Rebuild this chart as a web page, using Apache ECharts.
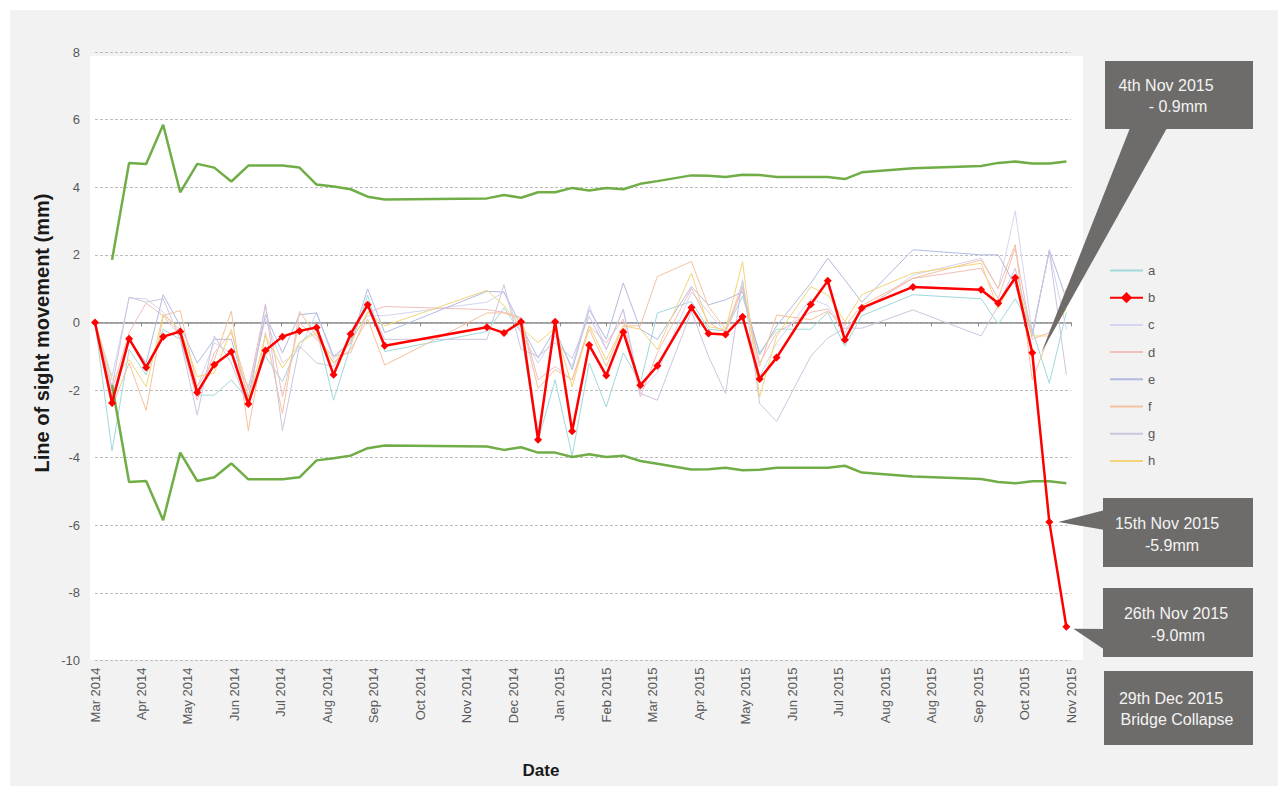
<!DOCTYPE html>
<html>
<head>
<meta charset="utf-8">
<script src="https://cdn.jsdelivr.net/npm/echarts@6/dist/echarts.min.js"></script>
<style>
  html, body { margin: 0; padding: 0; background: #ffffff; }
  #chart { width: 1278px; height: 786px; }
</style>
</head>
<body>
<div id="chart"></div>
<script>
// Axis origin (day 0) and the month labels placed every 30 days
const axisStart = '2014-03-09';
const tickStepDays = 30;
const tickLabels = ['Mar 2014', 'Apr 2014', 'May 2014', 'Jun 2014', 'Jul 2014', 'Aug 2014',
  'Sep 2014', 'Oct 2014', 'Nov 2014', 'Dec 2014', 'Jan 2015', 'Feb 2015', 'Mar 2015',
  'Apr 2015', 'May 2015', 'Jun 2015', 'Jul 2015', 'Aug 2015', 'Aug 2015', 'Sep 2015',
  'Oct 2015', 'Nov 2015'];

// Acquisition dates (11-day revisit, with gaps)
const dates = [
  '2014-03-09', '2014-03-20', '2014-03-31', '2014-04-11', '2014-04-22', '2014-05-03',
  '2014-05-14', '2014-05-25', '2014-06-05', '2014-06-16', '2014-06-27', '2014-07-08',
  '2014-07-19', '2014-07-30', '2014-08-10', '2014-08-21', '2014-09-01', '2014-09-12',
  '2014-11-17', '2014-11-28', '2014-12-09', '2014-12-20', '2014-12-31', '2015-01-11',
  '2015-01-22', '2015-02-02', '2015-02-13', '2015-02-24', '2015-03-07', '2015-03-29',
  '2015-04-09', '2015-04-20', '2015-05-01', '2015-05-12', '2015-05-23', '2015-06-14',
  '2015-06-25', '2015-07-06', '2015-07-17', '2015-08-19', '2015-10-02', '2015-10-13',
  '2015-10-24', '2015-11-04', '2015-11-15', '2015-11-26'];

// Line-of-sight movement (mm) per measurement point
const a = [0, -3.8, -0.8, -1.55, -0.2, -0.5, -2.15, -2.15, -1.7, -2.3,
  -1.0, -1.75, -0.6, -0.2, -2.3, -0.7, 0.8, -0.86,
  -0.27, 0.43, -0.3, -3.5, -1.7, -3.95, -1.2, -2.5, -0.9, -1.8, 0.28,
  0.62, -0.2, -0.25, 0.77, -0.9, -0.2,
  -0.2, 0.3, -0.7, 0.2,
  0.82,
  0.7, -0.05, 0.7, -0.2, -1.8, 0.3];
const b = [0, -2.38, -0.48, -1.33, -0.42, -0.27, -2.07, -1.25, -0.87, -2.41,
  -0.83, -0.42, -0.25, -0.15, -1.55, -0.34, 0.52, -0.69,
  -0.14, -0.31, 0.02, -3.47, 0.02, -3.22, -0.67, -1.57, -0.28, -1.86, -1.28,
  0.44, -0.33, -0.36, 0.17, -1.67, -1.04,
  0.53, 1.23, -0.51, 0.43,
  1.05,
  0.97, 0.57, 1.32, -0.9, -5.9, -9.0];
const c = [0, -1.6, 0.72, 0.7, 0.3, -0.3, -1.9, -0.6, -0.9, -1.9,
  0.1, -1.2, -0.8, 0.3, -1.1, -0.5, 0.2, 0.2,
  0.6, 0.9, -0.3, -1.2, -0.4, -1.3, 0.5, -0.8, 0.4, -2.0, -1.5,
  0.9, 0.3, -0.3, 1.2, -1.6, -0.6,
  0.7, 0.5, -0.2, 0.3,
  1.4,
  1.9, 1.0, 3.3, -0.3, 2.1, -0.2];
const d = [0, -2.0, -0.3, 0.57, 0.2, -0.4, -2.3, -0.9, -0.3, -2.0,
  0.5, -2.2, 0.0, -0.5, -1.0, -0.9, 0.3, 0.47,
  0.38, 0.3, 0.15, -1.7, -1.3, -1.7, -0.1, -0.6, 0.1, -2.2, -0.9,
  1.0, 0.0, -0.3, 1.0, -1.2, -0.3,
  0.3, 0.4, -0.3, 0.4,
  1.3,
  1.6, 0.7, 2.2, -0.5, -0.3, 0.9];
const e = [0, -2.2, -0.5, -1.2, 0.82, -0.1, -1.2, -0.5, -0.5, -2.2,
  0.23, -0.9, 0.23, 0.28, -1.0, -0.6, 0.99, -0.3,
  0.92, 0.9, -0.1, -1.05, -0.2, -1.4, 0.38, -0.5, 1.17, -0.2, -0.5,
  1.06, 0.52, 0.67, 0.9, -0.96, -0.1,
  1.16, 1.9, 1.26, 0.6,
  2.15,
  2.0, 2.0, 1.1, -0.4, 2.15, 0.7];
const f = [0, -2.5, -1.2, -2.6, 0.2, 0.35, -1.9, -1.1, 0.33, -3.2,
  -0.3, -2.7, 0.33, -0.4, -1.2, -0.8, 0.1, -1.26,
  0.28, 0.28, 0.1, -1.95, -1.4, -1.7, -0.2, -1.3, -0.1, -0.1, 1.36,
  1.8, 0.47, -0.2, 1.06, -1.3, 0.22,
  0.08, 0.33, -0.1, 0.5,
  1.31,
  1.85, 1.0, 2.3, -1.7, -0.4, 1.0];
const g = [0, -1.9, 0.75, 0.6, 0.7, -0.5, -2.74, -0.4, -1.2, -2.5,
  0.55, -3.2, -0.7, -1.2, -1.3, -0.5, 0.6, -0.5,
  -0.5, 1.12, -0.8, -1.0, -0.6, -1.06, 0.18, -0.8, 0.38, -2.1, -2.3,
  0.33, -1.0, -2.1, 1.26, -2.4, -2.93,
  -1.0, -0.46, -0.17, -0.17,
  0.37,
  -0.4, 0.5, 1.6, -0.3, 2.1, -1.55];
const h = [0, -1.7, -1.1, -1.9, 0.23, -0.2, -1.6, -1.5, -0.2, -2.3,
  -0.4, -1.35, -0.6, -0.3, -1.2, -0.6, 0.3, -0.1,
  0.95, 0.5, -0.15, -0.6, -0.17, -1.9, -0.1, -1.1, -0.1, -0.2, -0.8,
  1.46, -0.12, -0.22, 1.8, -2.2, -0.4,
  1.06, 0.82, 0.03, 0.82,
  1.46,
  1.75, 0.4, 1.4, -0.4, -0.4, 0.4];

// Upper / lower threshold envelopes (mm)
const upper = [null, 1.85, 4.72, 4.69, 5.85, 3.85, 4.69, 4.58, 4.17, 4.64,
  4.64, 4.64, 4.58, 4.08, 4.02, 3.94, 3.72, 3.64,
  3.67, 3.77, 3.69, 3.85, 3.85, 3.98, 3.9, 3.98, 3.94, 4.1, 4.18,
  4.35, 4.34, 4.3, 4.37, 4.36, 4.3,
  4.3, 4.3, 4.24, 4.44,
  4.56,
  4.63, 4.72, 4.76, 4.7, 4.7, 4.76];
const lower = [null, -1.85, -4.72, -4.69, -5.85, -3.85, -4.69, -4.58, -4.17, -4.64,
  -4.64, -4.64, -4.58, -4.08, -4.02, -3.94, -3.72, -3.64,
  -3.67, -3.77, -3.69, -3.85, -3.85, -3.98, -3.9, -3.98, -3.94, -4.1, -4.18,
  -4.35, -4.34, -4.3, -4.37, -4.36, -4.3,
  -4.3, -4.3, -4.24, -4.44,
  -4.56,
  -4.63, -4.72, -4.76, -4.7, -4.7, -4.76];

// Callout notes: index into dates, and the two text lines
const callouts = [
  { index: 43, lines: ['4th Nov 2015', '- 0.9mm'] },
  { index: 44, lines: ['15th Nov 2015', '-5.9mm'] },
  { index: 45, lines: ['26th Nov 2015', '-9.0mm'] }
];
const collapseNote = ['29th Dec 2015', 'Bridge Collapse'];

const seriesNames = ['a', 'b', 'c', 'd', 'e', 'f', 'g', 'h'];
const seriesValues = { a, b, c, d, e, f, g, h };
const paleColors = {
  a: '#9fd9db', c: '#d4d5f1', d: '#f3bdbb', e: '#b1bbe0',
  f: '#f5c29d', g: '#cec5df', h: '#f2d579'
};

function dayOffset(iso) {
  const p = iso.split('-').map(Number);
  const p0 = axisStart.split('-').map(Number);
  return Math.round((Date.UTC(p[0], p[1] - 1, p[2]) - Date.UTC(p0[0], p0[1] - 1, p0[2])) / 86400000);
}
const days = dates.map(dayOffset);
function pairs(vals) {
  const out = [];
  vals.forEach((v, i) => { if (v !== null) out.push([days[i], v]); });
  return out;
}

const FONT = '"Liberation Sans", Arial, sans-serif';
const axisMax = tickStepDays * (tickLabels.length - 1);

const chart = echarts.init(document.getElementById('chart'), null, { renderer: 'svg' });

const series = [];
seriesNames.filter(n => n !== 'b').forEach(n => {
  series.push({
    name: n, type: 'line', data: pairs(seriesValues[n]),
    symbol: 'none', z: 2, animation: false,
    lineStyle: { width: 1, color: paleColors[n] },
    itemStyle: { color: paleColors[n] }
  });
});
[upper, lower].forEach((env, i) => {
  series.push({
    name: i === 0 ? 'upper threshold' : 'lower threshold',
    type: 'line', data: pairs(env), symbol: 'none', z: 3, animation: false,
    lineStyle: { width: 2.5, color: '#70ad47' },
    itemStyle: { color: '#70ad47' }
  });
});
series.push({
  name: 'b', type: 'line', data: pairs(b), z: 5, animation: false,
  symbol: 'diamond', symbolSize: 8,
  lineStyle: { width: 2.5, color: '#ff0000' },
  itemStyle: { color: '#ff0000' }
});

// Legend entries: plain line for the thin series, line + diamond for b
const legendData = seriesNames.map(n => n === 'b'
  ? { name: n }
  : { name: n, itemStyle: { color: 'rgba(0,0,0,0)', borderColor: 'rgba(0,0,0,0)', borderWidth: 0 } });

chart.setOption({
  animation: false,
  grid: { left: 95, right: 1278 - 1071, top: 52, bottom: 786 - 660.5, containLabel: false },
  legend: {
    data: legendData,
    orient: 'vertical', left: 1104, top: 259,
    itemWidth: 33, itemHeight: 14, itemGap: 14.2,
    textStyle: { color: '#595959', fontSize: 13, fontFamily: FONT }
  },
  xAxis: [
    {
      type: 'value', min: 0, max: axisMax, interval: tickStepDays,
      axisLine: { show: false, onZero: false }, axisTick: { show: false },
      splitLine: { show: false },
      axisLabel: {
        rotate: 90, margin: 7, color: '#595959', fontSize: 13, fontFamily: FONT,
        formatter: v => tickLabels[Math.round(v / tickStepDays)] || ''
      }
    },
    {
      type: 'value', min: 0, max: axisMax, interval: tickStepDays, position: 'top',
      axisLine: { show: true, onZero: true, lineStyle: { color: '#8c8c8c', width: 1.5 } },
      axisTick: { show: true, inside: true, length: 4, lineStyle: { color: '#8c8c8c' } },
      axisLabel: { show: false }, splitLine: { show: false }
    }
  ],
  yAxis: {
    type: 'value', min: -10, max: 8, interval: 2,
    axisLine: { show: false }, axisTick: { show: false },
    axisLabel: { margin: 15, color: '#595959', fontSize: 13, fontFamily: FONT },
    splitLine: { lineStyle: { color: '#bdbdbd', type: [3, 2], width: 1 } }
  },
  series
});

// Background panels, axis titles and callout notes
const BOX = '#6e6c6a';
const TXT = '#f4f4f4';
const noteFont = '16px "Liberation Sans", Arial, sans-serif';
const pt = i => chart.convertToPixel({ xAxisIndex: 0, yAxisIndex: 0 }, [days[i], b[i]]);
const p0 = pt(callouts[0].index), p1 = pt(callouts[1].index), p2 = pt(callouts[2].index);

function text(x, y, str, extra) {
  return {
    type: 'text', x, y, z: 20, silent: true,
    style: Object.assign({ text: str, fill: TXT, font: noteFont, align: 'center', verticalAlign: 'middle' }, extra || {})
  };
}

chart.setOption({
  graphic: [
    { type: 'rect', z: -20, silent: true, shape: { x: 10, y: 10, width: 1268, height: 776 }, style: { fill: '#f2f2f2' } },
    { type: 'rect', z: -19, silent: true, shape: { x: 90, y: 56, width: 993, height: 604 }, style: { fill: '#ffffff' } },
    text(541, 770, 'Date', { fill: '#1a1a1a', font: 'bold 17px "Liberation Sans", Arial, sans-serif' }),
    Object.assign(text(42, 333, 'Line of sight movement (mm)', { fill: '#1a1a1a', font: 'bold 20px "Liberation Sans", Arial, sans-serif' }), { rotation: Math.PI / 2 }),

    // 4th Nov note
    { type: 'polygon', z: 18, silent: true, shape: { points: [[1130, 128], [1167, 128], [p0[0] + 9, p0[1]]] }, style: { fill: BOX } },
    { type: 'rect', z: 19, silent: true, shape: { x: 1105, y: 61, width: 148, height: 68 }, style: { fill: BOX } },
    text(1166, 85, callouts[0].lines[0]),
    text(1178, 106, callouts[0].lines[1]),

    // 15th Nov note
    { type: 'polygon', z: 18, silent: true, shape: { points: [[1105, 510], [1105, 530], [p1[0] + 9, p1[1]]] }, style: { fill: BOX } },
    { type: 'rect', z: 19, silent: true, shape: { x: 1103, y: 498, width: 150, height: 69 }, style: { fill: BOX } },
    text(1167, 523, callouts[1].lines[0]),
    text(1172, 545, callouts[1].lines[1]),

    // 26th Nov note
    { type: 'polygon', z: 18, silent: true, shape: { points: [[1105, 629], [1105, 650], [p2[0] + 7, p2[1] + 2]] }, style: { fill: BOX } },
    { type: 'rect', z: 19, silent: true, shape: { x: 1103, y: 588, width: 150, height: 69 }, style: { fill: BOX } },
    text(1176, 613, callouts[2].lines[0]),
    text(1178, 635, callouts[2].lines[1]),

    // collapse note
    { type: 'rect', z: 19, silent: true, shape: { x: 1104, y: 671, width: 149, height: 74 }, style: { fill: BOX } },
    text(1171, 698, collapseNote[0]),
    text(1177, 719, collapseNote[1])
  ]
});
</script>
</body>
</html>
